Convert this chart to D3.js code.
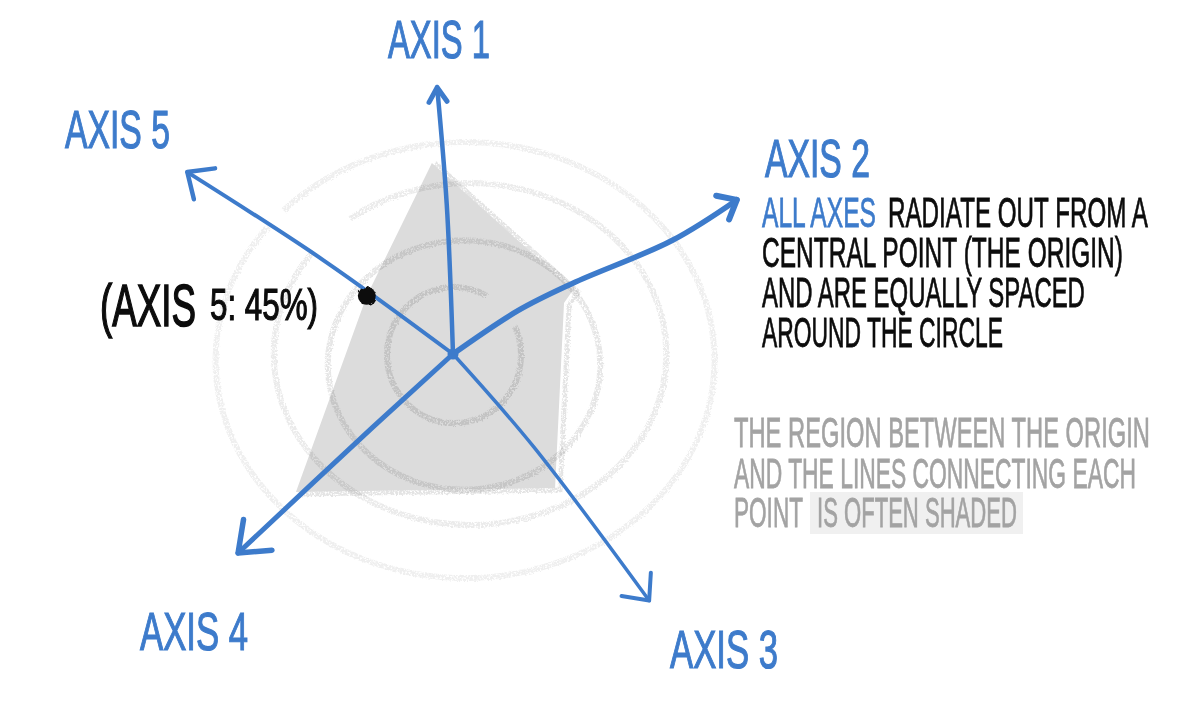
<!DOCTYPE html>
<html>
<head>
<meta charset="utf-8">
<script src="https://cdn.jsdelivr.net/npm/d3@7"></script>
<style>
  html, body { margin: 0; padding: 0; background: #fff; }
  text { font-family: "Liberation Sans Narrow", "Liberation Sans", sans-serif; }
</style>
</head>
<body>
<div id="radar"></div>
<script>
// values, angles in degrees clockwise from north, reach in % of the scale
const axis_names = ["AXIS 1", "AXIS 2", "AXIS 3", "AXIS 4", "AXIS 5"];
const axis1_trace = [[0, 0], [-2.4, 65], [-3.4, 115.6]];
const axis2_trace = [[0, 0], [56.3, 34], [59.4, 60], [62.6, 107], [61.5, 139.8]];
const axis3_trace = [[0, 0], [139, 53], [141.5, 136.4]];
const axis4_trace = [[0, 0], [227.6, 47], [227.2, 126.8]];
const axis5_trace = [[0, 0], [305.9, 69], [304.4, 139.4]];

const ring_levels_x = [29, 59, 85, 108];
const ring_levels_y = [29.4, 54, 74, 94.4];

const shade_angles = [-6.3, 61.9, 65.3, 142.7, 228.7, 304];
const shade_values = [83.2, 58.9, 52.9, 72.9, 90.5, 45];

const point_angle = 304;
const point_value = 45;
const point_label_a = "(AXIS";
const point_label_b = "5: 45%)";

const black_lines = ["RADIATE OUT FROM A", "CENTRAL POINT (THE ORIGIN)", "AND ARE EQUALLY SPACED", "AROUND THE CIRCLE"];
const blue_words = "ALL AXES";
const grey_lines = ["THE REGION BETWEEN THE ORIGIN", "AND THE LINES CONNECTING EACH", "POINT"];
const shaded_words = "IS OFTEN SHADED";

const width = 1200, height = 701;
const cx = 453, cy = 354;
const blue = "#3d7bcb";

const svg = d3.select("#radar").append("svg")
    .attr("width", width)
    .attr("height", height)
    .style("display", "block");

const defs = svg.append("defs");

// pencil look for the rings
const pencil = defs.append("filter").attr("id", "pencil")
    .attr("x", "-10%").attr("y", "-10%").attr("width", "120%").attr("height", "120%");
pencil.append("feTurbulence").attr("type", "fractalNoise").attr("baseFrequency", 0.55)
    .attr("numOctaves", 2).attr("seed", 4).attr("result", "noise");
pencil.append("feDisplacementMap").attr("in", "SourceGraphic").attr("in2", "noise")
    .attr("scale", 4).attr("result", "rough");
pencil.append("feColorMatrix").attr("in", "noise").attr("type", "matrix")
    .attr("values", "0 0 0 0 0  0 0 0 0 0  0 0 0 0 0  0 0 0 -5 3.4").attr("result", "grain");
pencil.append("feComposite").attr("in", "rough").attr("in2", "grain").attr("operator", "in");

const wobble = defs.append("filter").attr("id", "wobble")
    .attr("x", "-10%").attr("y", "-10%").attr("width", "120%").attr("height", "120%");
wobble.append("feTurbulence").attr("type", "fractalNoise").attr("baseFrequency", 0.15)
    .attr("numOctaves", 2).attr("seed", 9).attr("result", "noise");
wobble.append("feDisplacementMap").attr("in", "SourceGraphic").attr("in2", "noise").attr("scale", 4);

const r = d3.scaleLinear().domain([0, 100]).range([0, 231]);
const rad = d => d * Math.PI / 180;
const polar = (a, v) => [cx + r(v) * Math.sin(rad(a)), cy - r(v) * Math.cos(rad(a))];

const shade_points = shade_angles.map((a, i) => [rad(a), r(shade_values[i])]);
const radial = d3.lineRadial().angle(d => d[0]).radius(d => d[1]);

const plot = svg.append("g").attr("transform", `translate(${cx},${cy})`);

// sketched outline sitting just outside the fill
plot.append("path")
    .attr("d", radial.curve(d3.curveLinearClosed)(shade_points))
    .attr("transform", "translate(5,2)")
    .attr("fill", "none")
    .attr("stroke", "#e4e4e4")
    .attr("stroke-width", 5)
    .attr("filter", "url(#pencil)");

plot.append("path")
    .attr("d", radial.curve(d3.curveLinearClosed)(shade_points))
    .attr("fill", "#dcdcdc");

const ring_offsets = [[1, 1], [11, 11], [17, 0], [12, 6]];
const ring_colors = ["#e2e2e2", "#e6e6e6", "#ebebeb", "#efefef"];
const ring_dash = ["83 10 7", "none", "59.7 4.3 36", "60 1.5 38.5"];
plot.selectAll(".ring")
    .data(ring_levels_x)
    .join("ellipse")
    .attr("class", "ring")
    .attr("cx", (d, i) => ring_offsets[i][0])
    .attr("cy", (d, i) => ring_offsets[i][1])
    .attr("rx", d => r(d))
    .attr("ry", (d, i) => r(ring_levels_y[i]))
    .attr("pathLength", 100)
    .attr("fill", "none")
    .attr("stroke", (d, i) => ring_colors[i])
    .attr("stroke-width", 6)
    .attr("stroke-dasharray", (d, i) => ring_dash[i])
    .style("mix-blend-mode", "multiply")
    .attr("filter", "url(#pencil)");

// data point on axis 5, the axis line passes over it
const dot = polar(point_angle, point_value);
svg.append("circle")
    .attr("cx", dot[0])
    .attr("cy", dot[1])
    .attr("r", 9)
    .attr("fill", "#0c0c0c")
    .attr("filter", "url(#wobble)");

const traces = [axis1_trace, axis2_trace, axis3_trace, axis4_trace, axis5_trace];
const axis_stroke = [4.5, 5.5, 3.5, 5, 4];
const head_length = [17, 21, 28, 34, 28];
const head_spread = [32, 40, 42, 38, 42];

traces.forEach((trace, i) => {
    const pts = trace.map(t => [rad(t[0]), r(t[1])]);
    plot.append("path")
        .attr("d", radial.curve(d3.curveCatmullRom)(pts))
        .attr("fill", "none")
        .attr("stroke", blue)
        .attr("stroke-width", axis_stroke[i])
        .attr("stroke-linecap", "round");

    // arrow head at the end of the trace
    const tip = trace[trace.length - 1];
    const p = polar(tip[0], tip[1]);
    const dir = tip[0];
    const head = d3.path();
    [-1, 1].forEach(side => {
        const b = rad(dir + 180 + side * head_spread[i]);
        head.moveTo(p[0] + head_length[i] * Math.sin(b), p[1] - head_length[i] * Math.cos(b));
        head.lineTo(p[0], p[1]);
    });
    svg.append("path")
        .attr("d", head.toString())
        .attr("fill", "none")
        .attr("stroke", blue)
        .attr("stroke-width", axis_stroke[i] + 0.5)
        .attr("stroke-linecap", "round")
        .attr("stroke-linejoin", "round");
});

svg.append("circle")
    .attr("cx", cx)
    .attr("cy", cy)
    .attr("r", 5.5)
    .attr("fill", blue);

// squeeze or stretch a line to the width it has in the picture
function label(str, x1, x2, baseline, size, fill, thick) {
    const t = svg.append("text")
        .attr("font-size", size)
        .attr("fill", fill)
        .attr("stroke", fill)
        .attr("stroke-width", thick)
        .text(str);
    const k = (x2 - x1) / t.node().getComputedTextLength();
    t.attr("transform", `translate(${x1},${baseline}) scale(${k},1)`);
    return t;
}

const name_boxes = [[388, 490, 58], [765, 870, 177], [670, 778, 668], [140, 248, 650], [65, 170, 148]];
axis_names.forEach((n, i) => label(n, name_boxes[i][0], name_boxes[i][1], name_boxes[i][2], 54, blue, 1.2));

label(point_label_a, 100, 196, 326, 60, "#0c0c0c", 1.6);
label(point_label_b, 210, 318, 320, 44, "#0c0c0c", 1.2);

label(blue_words, 762, 876, 227, 43, blue, 0.8);
const black_boxes = [[888, 1148, 227], [762, 1123, 267], [762, 1085, 307], [762, 1003, 347]];
black_lines.forEach((l, i) => label(l, black_boxes[i][0], black_boxes[i][1], black_boxes[i][2], 43, "#0c0c0c", 0.8));

svg.append("rect")
    .attr("x", 810)
    .attr("y", 492)
    .attr("width", 213)
    .attr("height", 42)
    .attr("fill", "#f0f0f0");

const grey_boxes = [[734, 1150, 447], [734, 1136, 488], [734, 803, 527]];
grey_lines.forEach((l, i) => label(l, grey_boxes[i][0], grey_boxes[i][1], grey_boxes[i][2], 43, "#a3a3a3", 0.8));
label(shaded_words, 817, 1017, 527, 43, "#a3a3a3", 0.8);
</script>
</body>
</html>
